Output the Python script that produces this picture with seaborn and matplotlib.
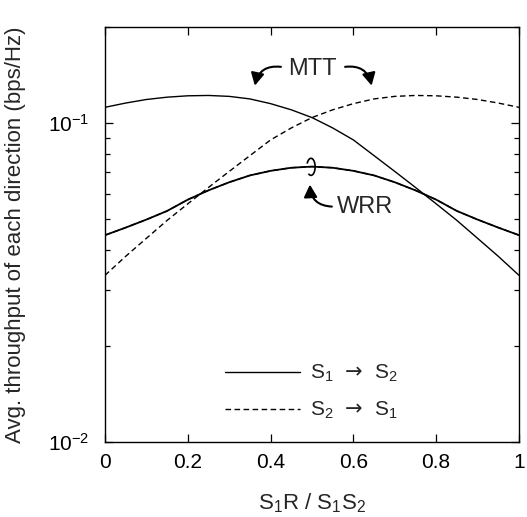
import matplotlib
matplotlib.use("Agg")
import matplotlib.pyplot as plt
import seaborn as sns
import pandas as pd
from matplotlib.lines import Line2D
from matplotlib.patches import Arc
from matplotlib.ticker import NullLocator

# values (x = S1R / S1S2)
x_vals = [0.0, 0.05, 0.10, 0.15, 0.20, 0.25, 0.30, 0.35, 0.40, 0.45, 0.50,
          0.55, 0.60, 0.65, 0.70, 0.75, 0.80, 0.85, 0.90, 0.95, 1.0]
mtt_s1s2 = [0.1120, 0.1155, 0.1185, 0.1205, 0.1217, 0.1220, 0.1212, 0.1190, 0.1150, 0.1100, 0.1040,
            0.0965, 0.0885, 0.0790, 0.0705, 0.0628, 0.0558, 0.0495, 0.0435, 0.0382, 0.0333]
mtt_s2s1 = [0.0333, 0.0382, 0.0435, 0.0495, 0.0558, 0.0628, 0.0705, 0.0790, 0.0885, 0.0965, 0.1040,
            0.1100, 0.1150, 0.1190, 0.1212, 0.1220, 0.1217, 0.1205, 0.1185, 0.1155, 0.1120]
wrr_s1s2 = [0.0445, 0.0470, 0.0498, 0.0530, 0.0575, 0.0615, 0.0652, 0.0685, 0.0708, 0.0724, 0.0730,
            0.0724, 0.0708, 0.0685, 0.0652, 0.0615, 0.0575, 0.0530, 0.0498, 0.0470, 0.0445]
wrr_s2s1 = [0.0445, 0.0470, 0.0498, 0.0530, 0.0575, 0.0615, 0.0652, 0.0685, 0.0708, 0.0724, 0.0730,
            0.0724, 0.0708, 0.0685, 0.0652, 0.0615, 0.0575, 0.0530, 0.0498, 0.0470, 0.0445]
x_ticks = [0, 0.2, 0.4, 0.6, 0.8, 1]
x_ticklabels = ['0', '0.2', '0.4', '0.6', '0.8', '1']
legend_labels = [r'S$_1$ $\,\mathsf{\rightarrow}\,$ S$_2$', r'S$_2$ $\,\mathsf{\rightarrow}\,$ S$_1$']

sns.set_style("ticks")
plt.rcParams['font.family'] = ['Liberation Sans', 'DejaVu Sans']
plt.rcParams['mathtext.fontset'] = 'custom'
plt.rcParams['mathtext.rm'] = 'Liberation Sans'
plt.rcParams['mathtext.it'] = 'Liberation Sans:italic'
plt.rcParams['mathtext.bf'] = 'Liberation Sans:bold'
plt.rcParams['mathtext.sf'] = 'DejaVu Sans'

df = pd.DataFrame({'x': x_vals, 'mtt_s1s2': mtt_s1s2, 'mtt_s2s1': mtt_s2s1,
                   'wrr_s1s2': wrr_s1s2, 'wrr_s2s1': wrr_s2s1})

fig = plt.figure(figsize=(5.27, 5.17), dpi=100)
ax = fig.add_axes([0.1992, 0.1451, 0.7856, 0.8027])

dash = [4, 2.5]
sns.lineplot(data=df, x='x', y='mtt_s1s2', ax=ax, color='black', lw=1.0)
sns.lineplot(data=df, x='x', y='mtt_s2s1', ax=ax, color='black', lw=1.0)
ax.lines[-1].set_dashes(dash)
sns.lineplot(data=df, x='x', y='wrr_s1s2', ax=ax, color='black', lw=1.3)
sns.lineplot(data=df, x='x', y='wrr_s2s1', ax=ax, color='black', lw=1.0)
ax.lines[-1].set_dashes(dash)

ax.set_yscale('log')
ax.set_ylim(0.01, 0.2)
ax.set_xlim(0, 1)
ax.set_xticks(x_ticks)
ax.set_xticklabels(x_ticklabels)
ax.xaxis.set_minor_locator(NullLocator())
ax.tick_params(which='both', direction='in', top=True, right=True, width=0.9, colors='black', labelsize=15)
ax.tick_params(which='major', length=5.8)
ax.tick_params(axis='x', which='major', pad=8)
ax.tick_params(axis='y', which='major', pad=11)
ax.tick_params(which='minor', length=3.6)
for sp in ax.spines.values():
    sp.set_linewidth(1.0)
    sp.set_color('black')

ax.set_xlabel(r'S$_1$R / S$_1$S$_2$', fontsize=16)
ax.set_ylabel('Avg. throughput of each direction (bps/Hz)', fontsize=16)
ax.yaxis.set_label_coords(-0.19, 0.5)
ax.xaxis.set_label_coords(0.5, -0.118)

handles = [Line2D([], [], color='black', lw=1.0),
           Line2D([], [], color='black', lw=1.0, dashes=dash)]
ax.legend(handles, legend_labels, loc='center left', bbox_to_anchor=(0.29, 0.12),
          frameon=False, fontsize=15, handlelength=3.6, handletextpad=0.5,
          labelspacing=0.75, borderpad=0, borderaxespad=0)

# annotations
ax.text(0.501, 0.148, 'MTT', fontsize=17, ha='center', va='center')
arrow = dict(arrowstyle='-|>,head_length=0.75,head_width=0.4', color='black', lw=1.5, shrinkA=0, shrinkB=0)
ax.annotate('', xy=(0.362, 0.131), xytext=(0.425, 0.150),
            arrowprops=dict(arrow, connectionstyle='arc3,rad=0.45'))
ax.annotate('', xy=(0.644, 0.131), xytext=(0.580, 0.150),
            arrowprops=dict(arrow, connectionstyle='arc3,rad=-0.45'))
ax.text(0.56, 0.0546, 'WRR', fontsize=17, ha='left', va='center')
ax.annotate('', xy=(0.495, 0.0641), xytext=(0.548, 0.0547),
            arrowprops=dict(arrow, connectionstyle='arc3,rad=-0.45'))
ax.add_patch(Arc((0.4976, 0.663), 0.02, 0.041, theta1=-110, theta2=140,
                 transform=ax.transAxes, color='black', lw=1.2))

fig.savefig('out.png', dpi=100)
